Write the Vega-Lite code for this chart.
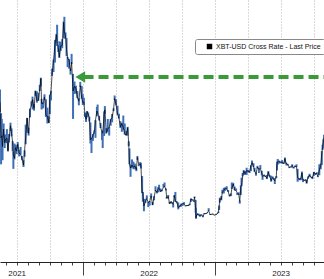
{
"$schema": "https://vega.github.io/schema/vega-lite/v6.json",
"width": 324, "height": 262,
"autosize": {"type": "none"},
"padding": {"left": 0, "top": 0, "right": 0, "bottom": 17},
"background": "white",
"config": {"view": {"stroke": null}, "font": "Liberation Sans"},
"datasets": {
"px": [
{"d":"2021-05-16","c":46.4,"h":49.8,"l":43.8},{"d":"2021-05-19","c":37.0,"h":43.5,"l":30.0},{"d":"2021-05-21","c":37.5,"h":42.0,"l":33.5},{"d":"2021-05-23","c":34.7,"h":38.0,"l":31.1},{"d":"2021-05-26","c":39.3,"h":40.8,"l":37.3},{"d":"2021-05-29","c":35.7,"h":37.8,"l":34.3},{"d":"2021-06-01","c":36.7,"h":37.9,"l":35.7},{"d":"2021-06-04","c":36.9,"h":39.3,"l":35.6},{"d":"2021-06-07","c":33.6,"h":36.8,"l":33.4},{"d":"2021-06-10","c":36.7,"h":38.0,"l":35.8},{"d":"2021-06-14","c":40.2,"h":41.0,"l":38.8},{"d":"2021-06-17","c":38.1,"h":39.5,"l":37.4},{"d":"2021-06-20","c":35.8,"h":36.1,"l":33.4},{"d":"2021-06-22","c":32.5,"h":33.3,"l":28.8},{"d":"2021-06-25","c":31.6,"h":35.5,"l":31.3},{"d":"2021-06-28","c":34.4,"h":35.2,"l":33.9},{"d":"2021-07-01","c":33.5,"h":35.0,"l":32.7},{"d":"2021-07-04","c":35.3,"h":35.9,"l":34.1},{"d":"2021-07-08","c":32.9,"h":33.9,"l":32.1},{"d":"2021-07-12","c":32.7,"h":34.6,"l":32.6},{"d":"2021-07-16","c":31.4,"h":32.2,"l":31.1},{"d":"2021-07-20","c":29.8,"h":31.1,"l":29.3},{"d":"2021-07-23","c":33.6,"h":33.7,"l":32.0},{"d":"2021-07-26","c":37.3,"h":40.5,"l":35.3},{"d":"2021-07-30","c":42.2,"h":42.3,"l":38.3},{"d":"2021-08-03","c":38.2,"h":39.7,"l":37.6},{"d":"2021-08-07","c":44.6,"h":44.7,"l":42.4},{"d":"2021-08-11","c":45.6,"h":46.7,"l":45.3},{"d":"2021-08-14","c":47.1,"h":47.9,"l":44.5},{"d":"2021-08-18","c":44.8,"h":46.0,"l":44.2},{"d":"2021-08-22","c":49.3,"h":49.5,"l":48.1},{"d":"2021-08-26","c":46.9,"h":49.3,"l":46.3},{"d":"2021-08-30","c":46.9,"h":48.9,"l":46.8},{"d":"2021-09-03","c":50.0,"h":51.0,"l":49.4},{"d":"2021-09-06","c":52.7,"h":52.9,"l":50.6},{"d":"2021-09-08","c":46.1,"h":47.3,"l":44.5},{"d":"2021-09-12","c":46.1,"h":46.4,"l":44.8},{"d":"2021-09-16","c":47.8,"h":48.5,"l":47.0},{"d":"2021-09-20","c":43.0,"h":47.2,"l":42.5},{"d":"2021-09-24","c":42.7,"h":45.0,"l":40.8},{"d":"2021-09-28","c":41.0,"h":42.7,"l":40.9},{"d":"2021-10-01","c":48.1,"h":48.4,"l":43.3},{"d":"2021-10-04","c":49.1,"h":49.4,"l":46.9},{"d":"2021-10-07","c":53.8,"h":55.3,"l":53.4},{"d":"2021-10-11","c":57.4,"h":57.7,"l":54.4},{"d":"2021-10-15","c":61.6,"h":62.9,"l":56.9},{"d":"2021-10-19","c":64.3,"h":64.5,"l":61.3},{"d":"2021-10-21","c":62.2,"h":66.9,"l":62.1},{"d":"2021-10-24","c":60.9,"h":61.5,"l":59.7},{"d":"2021-10-27","c":58.4,"h":62.5,"l":58.1},{"d":"2021-10-31","c":61.3,"h":62.4,"l":60.0},{"d":"2021-11-04","c":61.4,"h":63.1,"l":60.7},{"d":"2021-11-08","c":67.5,"h":67.8,"l":63.4},{"d":"2021-11-10","c":64.9,"h":69.0,"l":63.2},{"d":"2021-11-13","c":64.1,"h":64.9,"l":63.4},{"d":"2021-11-16","c":60.4,"h":63.4,"l":58.6},{"d":"2021-11-19","c":58.0,"h":58.4,"l":55.7},{"d":"2021-11-23","c":57.5,"h":57.9,"l":55.3},{"d":"2021-11-27","c":54.7,"h":55.3,"l":53.7},{"d":"2021-11-30","c":57.0,"h":59.2,"l":56.5},{"d":"2021-12-04","c":49.4,"h":53.9,"l":42.0},{"d":"2021-12-08","c":50.6,"h":51.9,"l":48.6},{"d":"2021-12-12","c":50.1,"h":50.8,"l":48.7},{"d":"2021-12-16","c":47.6,"h":49.4,"l":47.5},{"d":"2021-12-20","c":46.7,"h":47.5,"l":45.6},{"d":"2021-12-24","c":50.8,"h":51.8,"l":50.5},{"d":"2021-12-28","c":47.6,"h":50.7,"l":47.3},{"d":"2021-12-31","c":46.3,"h":48.5,"l":45.7},
{"d":"2022-01-03","c":46.5,"h":47.6,"l":45.7},{"d":"2022-01-06","c":43.1,"h":43.7,"l":42.5},{"d":"2022-01-09","c":41.9,"h":42.8,"l":41.2},{"d":"2022-01-12","c":43.9,"h":44.1,"l":42.4},{"d":"2022-01-15","c":43.1,"h":43.7,"l":42.6},{"d":"2022-01-18","c":42.4,"h":42.6,"l":41.3},{"d":"2022-01-21","c":36.5,"h":41.1,"l":35.5},{"d":"2022-01-24","c":36.7,"h":37.0,"l":33.0},{"d":"2022-01-28","c":37.7,"h":38.0,"l":36.2},{"d":"2022-02-01","c":38.7,"h":39.0,"l":38.0},{"d":"2022-02-04","c":41.6,"h":41.7,"l":37.0},{"d":"2022-02-08","c":44.1,"h":45.2,"l":42.7},{"d":"2022-02-10","c":43.6,"h":45.8,"l":43.2},{"d":"2022-02-14","c":42.6,"h":42.8,"l":41.6},{"d":"2022-02-18","c":40.0,"h":40.9,"l":39.6},{"d":"2022-02-22","c":38.3,"h":38.4,"l":36.4},{"d":"2022-02-24","c":38.3,"h":39.0,"l":34.3},{"d":"2022-02-28","c":43.2,"h":44.0,"l":37.5},{"d":"2022-03-02","c":44.4,"h":45.4,"l":43.3},{"d":"2022-03-06","c":38.4,"h":39.6,"l":38.1},{"d":"2022-03-10","c":39.4,"h":42.0,"l":38.5},{"d":"2022-03-14","c":39.7,"h":39.9,"l":37.6},{"d":"2022-03-18","c":41.8,"h":42.0,"l":40.2},{"d":"2022-03-22","c":42.4,"h":43.3,"l":41.1},{"d":"2022-03-26","c":44.5,"h":44.8,"l":44.1},{"d":"2022-03-29","c":47.4,"h":48.2,"l":47.0},{"d":"2022-04-02","c":45.8,"h":47.2,"l":45.6},{"d":"2022-04-06","c":43.2,"h":45.5,"l":43.1},{"d":"2022-04-10","c":42.2,"h":43.4,"l":42.1},{"d":"2022-04-14","c":39.9,"h":41.4,"l":39.6},{"d":"2022-04-18","c":40.8,"h":41.0,"l":38.6},{"d":"2022-04-22","c":39.7,"h":42.9,"l":39.2},{"d":"2022-04-26","c":38.1,"h":40.8,"l":37.8},{"d":"2022-04-30","c":37.7,"h":38.8,"l":37.6},{"d":"2022-05-04","c":39.7,"h":39.9,"l":37.6},{"d":"2022-05-07","c":35.5,"h":36.1,"l":34.8},{"d":"2022-05-09","c":30.1,"h":34.2,"l":30.0},{"d":"2022-05-12","c":29.0,"h":30.0,"l":26.7},{"d":"2022-05-16","c":29.8,"h":31.3,"l":29.1},{"d":"2022-05-20","c":29.2,"h":30.7,"l":28.7},{"d":"2022-05-24","c":29.6,"h":30.2,"l":28.7},{"d":"2022-05-28","c":28.6,"h":29.2,"l":28.2},{"d":"2022-05-31","c":31.8,"h":32.2,"l":31.2},{"d":"2022-06-04","c":29.9,"h":30.0,"l":29.5},{"d":"2022-06-08","c":30.2,"h":30.6,"l":29.9},{"d":"2022-06-10","c":29.1,"h":30.3,"l":28.9},{"d":"2022-06-13","c":22.5,"h":26.9,"l":22.4},{"d":"2022-06-15","c":22.6,"h":22.7,"l":20.1},{"d":"2022-06-18","c":19.0,"h":20.8,"l":17.6},{"d":"2022-06-22","c":20.0,"h":20.9,"l":19.8},{"d":"2022-06-26","c":21.0,"h":21.8,"l":20.9},{"d":"2022-06-30","c":19.9,"h":20.1,"l":18.7},{"d":"2022-07-04","c":20.2,"h":20.3,"l":19.1},{"d":"2022-07-08","c":21.6,"h":22.3,"l":21.2},{"d":"2022-07-12","c":19.3,"h":20.0,"l":19.2},{"d":"2022-07-16","c":21.2,"h":21.6,"l":20.5},{"d":"2022-07-20","c":23.2,"h":24.2,"l":23.0},{"d":"2022-07-24","c":22.6,"h":23.0,"l":22.3},{"d":"2022-07-28","c":23.8,"h":24.0,"l":22.6},{"d":"2022-07-30","c":23.6,"h":24.6,"l":23.5},{"d":"2022-08-03","c":22.8,"h":23.6,"l":22.7},{"d":"2022-08-07","c":23.2,"h":23.3,"l":22.9},{"d":"2022-08-11","c":23.9,"h":24.8,"l":23.9},{"d":"2022-08-14","c":24.3,"h":25.2,"l":24.2},{"d":"2022-08-18","c":23.2,"h":23.6,"l":23.1},{"d":"2022-08-20","c":21.1,"h":21.4,"l":20.9},{"d":"2022-08-24","c":21.5,"h":21.9,"l":21.0},{"d":"2022-08-28","c":19.6,"h":20.1,"l":19.6},{"d":"2022-09-01","c":20.1,"h":20.2,"l":19.6},{"d":"2022-09-05","c":19.8,"h":20.0,"l":19.6},{"d":"2022-09-07","c":19.3,"h":19.4,"l":18.6},{"d":"2022-09-10","c":21.8,"h":21.8,"l":21.3},{"d":"2022-09-13","c":20.2,"h":22.7,"l":20.1},{"d":"2022-09-17","c":20.1,"h":20.2,"l":19.7},{"d":"2022-09-21","c":18.5,"h":19.9,"l":18.1},{"d":"2022-09-25","c":18.8,"h":19.2,"l":18.7},{"d":"2022-09-29","c":19.4,"h":19.6,"l":18.8},{"d":"2022-10-03","c":19.6,"h":19.7,"l":19.0},{"d":"2022-10-07","c":19.5,"h":20.0,"l":19.4},{"d":"2022-10-11","c":19.0,"h":19.1,"l":18.9},{"d":"2022-10-15","c":19.1,"h":19.2,"l":19.0},{"d":"2022-10-19","c":19.1,"h":19.3,"l":19.0},{"d":"2022-10-23","c":19.6,"h":19.6,"l":19.2},{"d":"2022-10-26","c":20.8,"h":21.0,"l":20.1},{"d":"2022-10-30","c":20.6,"h":20.8,"l":20.5},{"d":"2022-11-03","c":20.2,"h":20.4,"l":20.1},{"d":"2022-11-05","c":21.3,"h":21.5,"l":21.1},{"d":"2022-11-08","c":18.5,"h":20.6,"l":17.2},{"d":"2022-11-09","c":15.9,"h":18.5,"l":15.6},{"d":"2022-11-12","c":16.8,"h":17.1,"l":16.7},{"d":"2022-11-16","c":16.6,"h":17.0,"l":16.5},{"d":"2022-11-20","c":16.3,"h":16.8,"l":16.2},{"d":"2022-11-24","c":16.6,"h":16.8,"l":16.5},{"d":"2022-11-28","c":16.2,"h":16.5,"l":16.0},{"d":"2022-12-02","c":17.0,"h":17.1,"l":16.8},{"d":"2022-12-06","c":17.0,"h":17.1,"l":16.9},{"d":"2022-12-10","c":17.1,"h":17.2,"l":17.1},{"d":"2022-12-14","c":17.8,"h":18.4,"l":17.7},{"d":"2022-12-18","c":16.7,"h":16.8,"l":16.6},{"d":"2022-12-22","c":16.8,"h":16.8,"l":16.6},{"d":"2022-12-26","c":16.9,"h":16.9,"l":16.8},{"d":"2022-12-30","c":16.6,"h":16.6,"l":16.5},
{"d":"2023-01-03","c":16.7,"h":16.8,"l":16.6},{"d":"2023-01-07","c":16.9,"h":17.0,"l":16.9},{"d":"2023-01-10","c":17.4,"h":17.5,"l":17.1},{"d":"2023-01-12","c":18.9,"h":19.1,"l":17.9},{"d":"2023-01-14","c":20.9,"h":21.2,"l":19.9},{"d":"2023-01-18","c":20.7,"h":21.6,"l":20.5},{"d":"2023-01-21","c":22.7,"h":23.3,"l":22.3},{"d":"2023-01-25","c":23.1,"h":23.8,"l":22.3},{"d":"2023-01-29","c":23.7,"h":23.9,"l":23.0},{"d":"2023-02-02","c":23.5,"h":24.2,"l":23.4},{"d":"2023-02-06","c":22.8,"h":23.2,"l":22.7},{"d":"2023-02-10","c":21.6,"h":22.0,"l":21.5},{"d":"2023-02-14","c":22.2,"h":22.3,"l":21.6},{"d":"2023-02-16","c":23.5,"h":25.2,"l":23.5},{"d":"2023-02-20","c":24.8,"h":25.1,"l":24.2},{"d":"2023-02-24","c":23.2,"h":24.1,"l":23.1},{"d":"2023-02-28","c":23.1,"h":23.6,"l":23.1},{"d":"2023-03-03","c":22.4,"h":22.4,"l":21.9},{"d":"2023-03-07","c":22.2,"h":22.6,"l":21.9},{"d":"2023-03-10","c":20.2,"h":20.4,"l":19.6},{"d":"2023-03-13","c":24.1,"h":24.5,"l":21.9},{"d":"2023-03-15","c":24.4,"h":26.5,"l":24.2},{"d":"2023-03-18","c":26.9,"h":27.7,"l":26.8},{"d":"2023-03-21","c":28.2,"h":28.5,"l":27.2},{"d":"2023-03-25","c":27.5,"h":28.2,"l":27.2},{"d":"2023-03-29","c":28.3,"h":29.1,"l":27.2},{"d":"2023-04-02","c":28.2,"h":28.5,"l":27.9},{"d":"2023-04-06","c":28.0,"h":28.2,"l":27.7},{"d":"2023-04-10","c":29.7,"h":29.8,"l":28.2},{"d":"2023-04-13","c":30.4,"h":31.0,"l":29.9},{"d":"2023-04-17","c":29.4,"h":30.3,"l":29.3},{"d":"2023-04-20","c":28.2,"h":29.1,"l":28.0},{"d":"2023-04-24","c":27.5,"h":27.8,"l":27.0},{"d":"2023-04-28","c":29.3,"h":29.6,"l":28.9},{"d":"2023-05-02","c":28.7,"h":28.9,"l":27.7},{"d":"2023-05-06","c":28.9,"h":29.8,"l":28.8},{"d":"2023-05-10","c":27.6,"h":28.3,"l":27.1},{"d":"2023-05-12","c":26.8,"h":27.1,"l":25.9},{"d":"2023-05-16","c":27.0,"h":27.3,"l":26.9},{"d":"2023-05-20","c":26.9,"h":27.0,"l":26.7},{"d":"2023-05-24","c":26.3,"h":27.2,"l":26.1},{"d":"2023-05-28","c":28.0,"h":28.2,"l":26.9},{"d":"2023-06-01","c":26.8,"h":27.1,"l":26.6},{"d":"2023-06-05","c":25.7,"h":27.0,"l":25.4},{"d":"2023-06-09","c":26.5,"h":26.8,"l":26.3},{"d":"2023-06-13","c":25.9,"h":26.4,"l":25.8},{"d":"2023-06-15","c":25.6,"h":25.8,"l":24.8},{"d":"2023-06-19","c":26.8,"h":26.9,"l":26.3},{"d":"2023-06-21","c":30.0,"h":30.7,"l":28.4},{"d":"2023-06-23","c":30.7,"h":31.4,"l":29.9},{"d":"2023-06-27","c":30.7,"h":31.0,"l":30.2},{"d":"2023-07-01","c":30.6,"h":30.7,"l":30.3},{"d":"2023-07-05","c":30.5,"h":31.1,"l":30.2},{"d":"2023-07-09","c":30.2,"h":30.4,"l":30.1},{"d":"2023-07-13","c":31.5,"h":31.8,"l":30.2},{"d":"2023-07-17","c":30.1,"h":30.4,"l":29.7},{"d":"2023-07-21","c":29.9,"h":30.1,"l":29.7},{"d":"2023-07-25","c":29.2,"h":29.3,"l":29.0},{"d":"2023-07-29","c":29.3,"h":29.4,"l":29.2},{"d":"2023-08-02","c":29.7,"h":30.0,"l":29.1},{"d":"2023-08-06","c":29.1,"h":29.2,"l":28.9},{"d":"2023-08-10","c":29.4,"h":29.7,"l":29.3},{"d":"2023-08-14","c":29.4,"h":30.0,"l":29.3},{"d":"2023-08-17","c":26.6,"h":28.8,"l":25.4},{"d":"2023-08-21","c":26.1,"h":26.3,"l":25.8},{"d":"2023-08-25","c":26.1,"h":26.3,"l":25.8},{"d":"2023-08-29","c":27.7,"h":28.1,"l":25.9},{"d":"2023-09-01","c":25.9,"h":26.1,"l":25.3},{"d":"2023-09-05","c":25.8,"h":25.9,"l":25.6},{"d":"2023-09-09","c":25.9,"h":26.0,"l":25.8},{"d":"2023-09-11","c":25.1,"h":25.9,"l":24.9},{"d":"2023-09-15","c":26.6,"h":26.8,"l":26.2},{"d":"2023-09-19","c":27.2,"h":27.5,"l":26.6},{"d":"2023-09-23","c":26.6,"h":26.6,"l":26.5},{"d":"2023-09-27","c":26.4,"h":26.8,"l":26.1},{"d":"2023-10-01","c":27.9,"h":28.0,"l":26.9},{"d":"2023-10-05","c":27.4,"h":27.7,"l":27.2},{"d":"2023-10-09","c":27.6,"h":27.9,"l":27.4},{"d":"2023-10-12","c":26.8,"h":26.9,"l":26.6},{"d":"2023-10-16","c":28.5,"h":30.0,"l":27.1},{"d":"2023-10-20","c":29.7,"h":30.2,"l":28.7},{"d":"2023-10-23","c":33.0,"h":33.5,"l":29.8},{"d":"2023-10-25","c":34.5,"h":35.2,"l":33.8},{"d":"2023-10-27","c":35.8,"h":36.6,"l":34.2},{"d":"2023-10-29","c":37.0,"h":37.8,"l":35.5}
],
"arrowLine": [{"d":"2022-01-02","d2":"2023-11-10","v":53.1}],
"arrowHead": [{"d":"2021-12-24","v":53.1}]
},
"encoding": {
  "x": {"field": "d", "type": "temporal", "title": null,
    "scale": {"type": "utc", "domain": [{"year":2021,"month":5,"date":16,"utc":true},{"year":2023,"month":10,"date":29,"utc":true}]},
    "axis": {
      "values": [
        {"year":2021,"month":6,"date":1,"utc":true},{"year":2021,"month":7,"date":1,"utc":true},{"year":2021,"month":8,"date":1,"utc":true},{"year":2021,"month":9,"date":1,"utc":true},{"year":2021,"month":10,"date":1,"utc":true},{"year":2021,"month":11,"date":1,"utc":true},{"year":2021,"month":12,"date":1,"utc":true},
        {"year":2022,"month":1,"date":1,"utc":true},{"year":2022,"month":2,"date":1,"utc":true},{"year":2022,"month":3,"date":1,"utc":true},{"year":2022,"month":4,"date":1,"utc":true},{"year":2022,"month":5,"date":1,"utc":true},{"year":2022,"month":6,"date":1,"utc":true},{"year":2022,"month":7,"date":1,"utc":true},{"year":2022,"month":8,"date":1,"utc":true},{"year":2022,"month":9,"date":1,"utc":true},{"year":2022,"month":10,"date":1,"utc":true},{"year":2022,"month":11,"date":1,"utc":true},{"year":2022,"month":12,"date":1,"utc":true},
        {"year":2023,"month":1,"date":1,"utc":true},{"year":2023,"month":2,"date":1,"utc":true},{"year":2023,"month":3,"date":1,"utc":true},{"year":2023,"month":4,"date":1,"utc":true},{"year":2023,"month":5,"date":1,"utc":true},{"year":2023,"month":6,"date":1,"utc":true},{"year":2023,"month":7,"date":1,"utc":true},{"year":2023,"month":8,"date":1,"utc":true},{"year":2023,"month":9,"date":1,"utc":true},{"year":2023,"month":10,"date":1,"utc":true}
      ],
      "domainColor": "#222", "domainWidth": 1,
      "tickColor": "#444", "tickWidth": 1,
      "tickSize": {"condition": {"test": "utcmonth(datum.value) == 0", "value": 13}, "value": 3},
      "grid": true, "gridDash": [1, 2], "gridColor": "#b4b4b4", "gridWidth": 1,
      "gridOpacity": {"condition": {"test": "utcmonth(datum.value) % 3 == 0", "value": 1}, "value": 0},
      "labelExpr": "utcmonth(datum.value) == 6 ? '' + utcyear(datum.value) : ''",
      "labelPadding": 4, "labelFontSize": 8, "labelColor": "#222", "labelFont": "Liberation Sans",
      "labelFlush": false, "labelOverlap": false, "labelBaseline": "top"
    }
  }
},
"layer": [
  {
    "data": {"name": "px"},
    "mark": {"type": "rule", "color": "#3f6fb5", "strokeWidth": 2, "clip": true},
    "encoding": {
      "y": {"field": "l", "type": "quantitative", "title": null,
        "scale": {"domain": [4.18, 73.44], "nice": false, "zero": false},
        "axis": {"values": [10, 20, 30, 40, 50, 60, 70], "labels": false, "ticks": false, "domain": false,
          "grid": true, "gridDash": [1, 2], "gridColor": "#b4b4b4", "gridWidth": 1}},
      "y2": {"field": "h"}
    }
  },
  {
    "data": {"name": "px"},
    "mark": {"type": "line", "strokeWidth": 0.7, "clip": true},
    "encoding": {
      "y": {"field": "c", "type": "quantitative", "axis": null},
      "color": {"datum": "XBT-USD Cross Rate - Last Price", "type": "nominal",
        "scale": {"range": ["#000000"]},
        "legend": {"title": null, "orient": "none", "legendX": 195, "legendY": 39,
          "symbolType": "square", "symbolSize": 30, "symbolFillColor": "#000", "symbolStrokeColor": "#000", "symbolStrokeWidth": 0,
          "symbolOffset": 7, "labelOffset": 3,
          "labelFontSize": 7, "labelFont": "Liberation Sans", "labelColor": "#111", "labelLimit": 200,
          "padding": 4, "fillColor": "white", "strokeColor": "#888", "cornerRadius": 2}}
    }
  },
  {
    "data": {"name": "arrowLine"},
    "mark": {"type": "rule", "color": "#3a9a3a", "strokeWidth": 4, "strokeDash": [10, 5], "strokeCap": "butt", "clip": true},
    "encoding": {
      "x2": {"field": "d2"},
      "y": {"field": "v", "type": "quantitative", "axis": null}
    }
  },
  {
    "data": {"name": "arrowHead"},
    "mark": {"type": "point", "shape": "triangle-left", "filled": true, "color": "#3a9a3a", "size": 130, "opacity": 1},
    "encoding": {
      "y": {"field": "v", "type": "quantitative", "axis": null}
    }
  }
]
}
